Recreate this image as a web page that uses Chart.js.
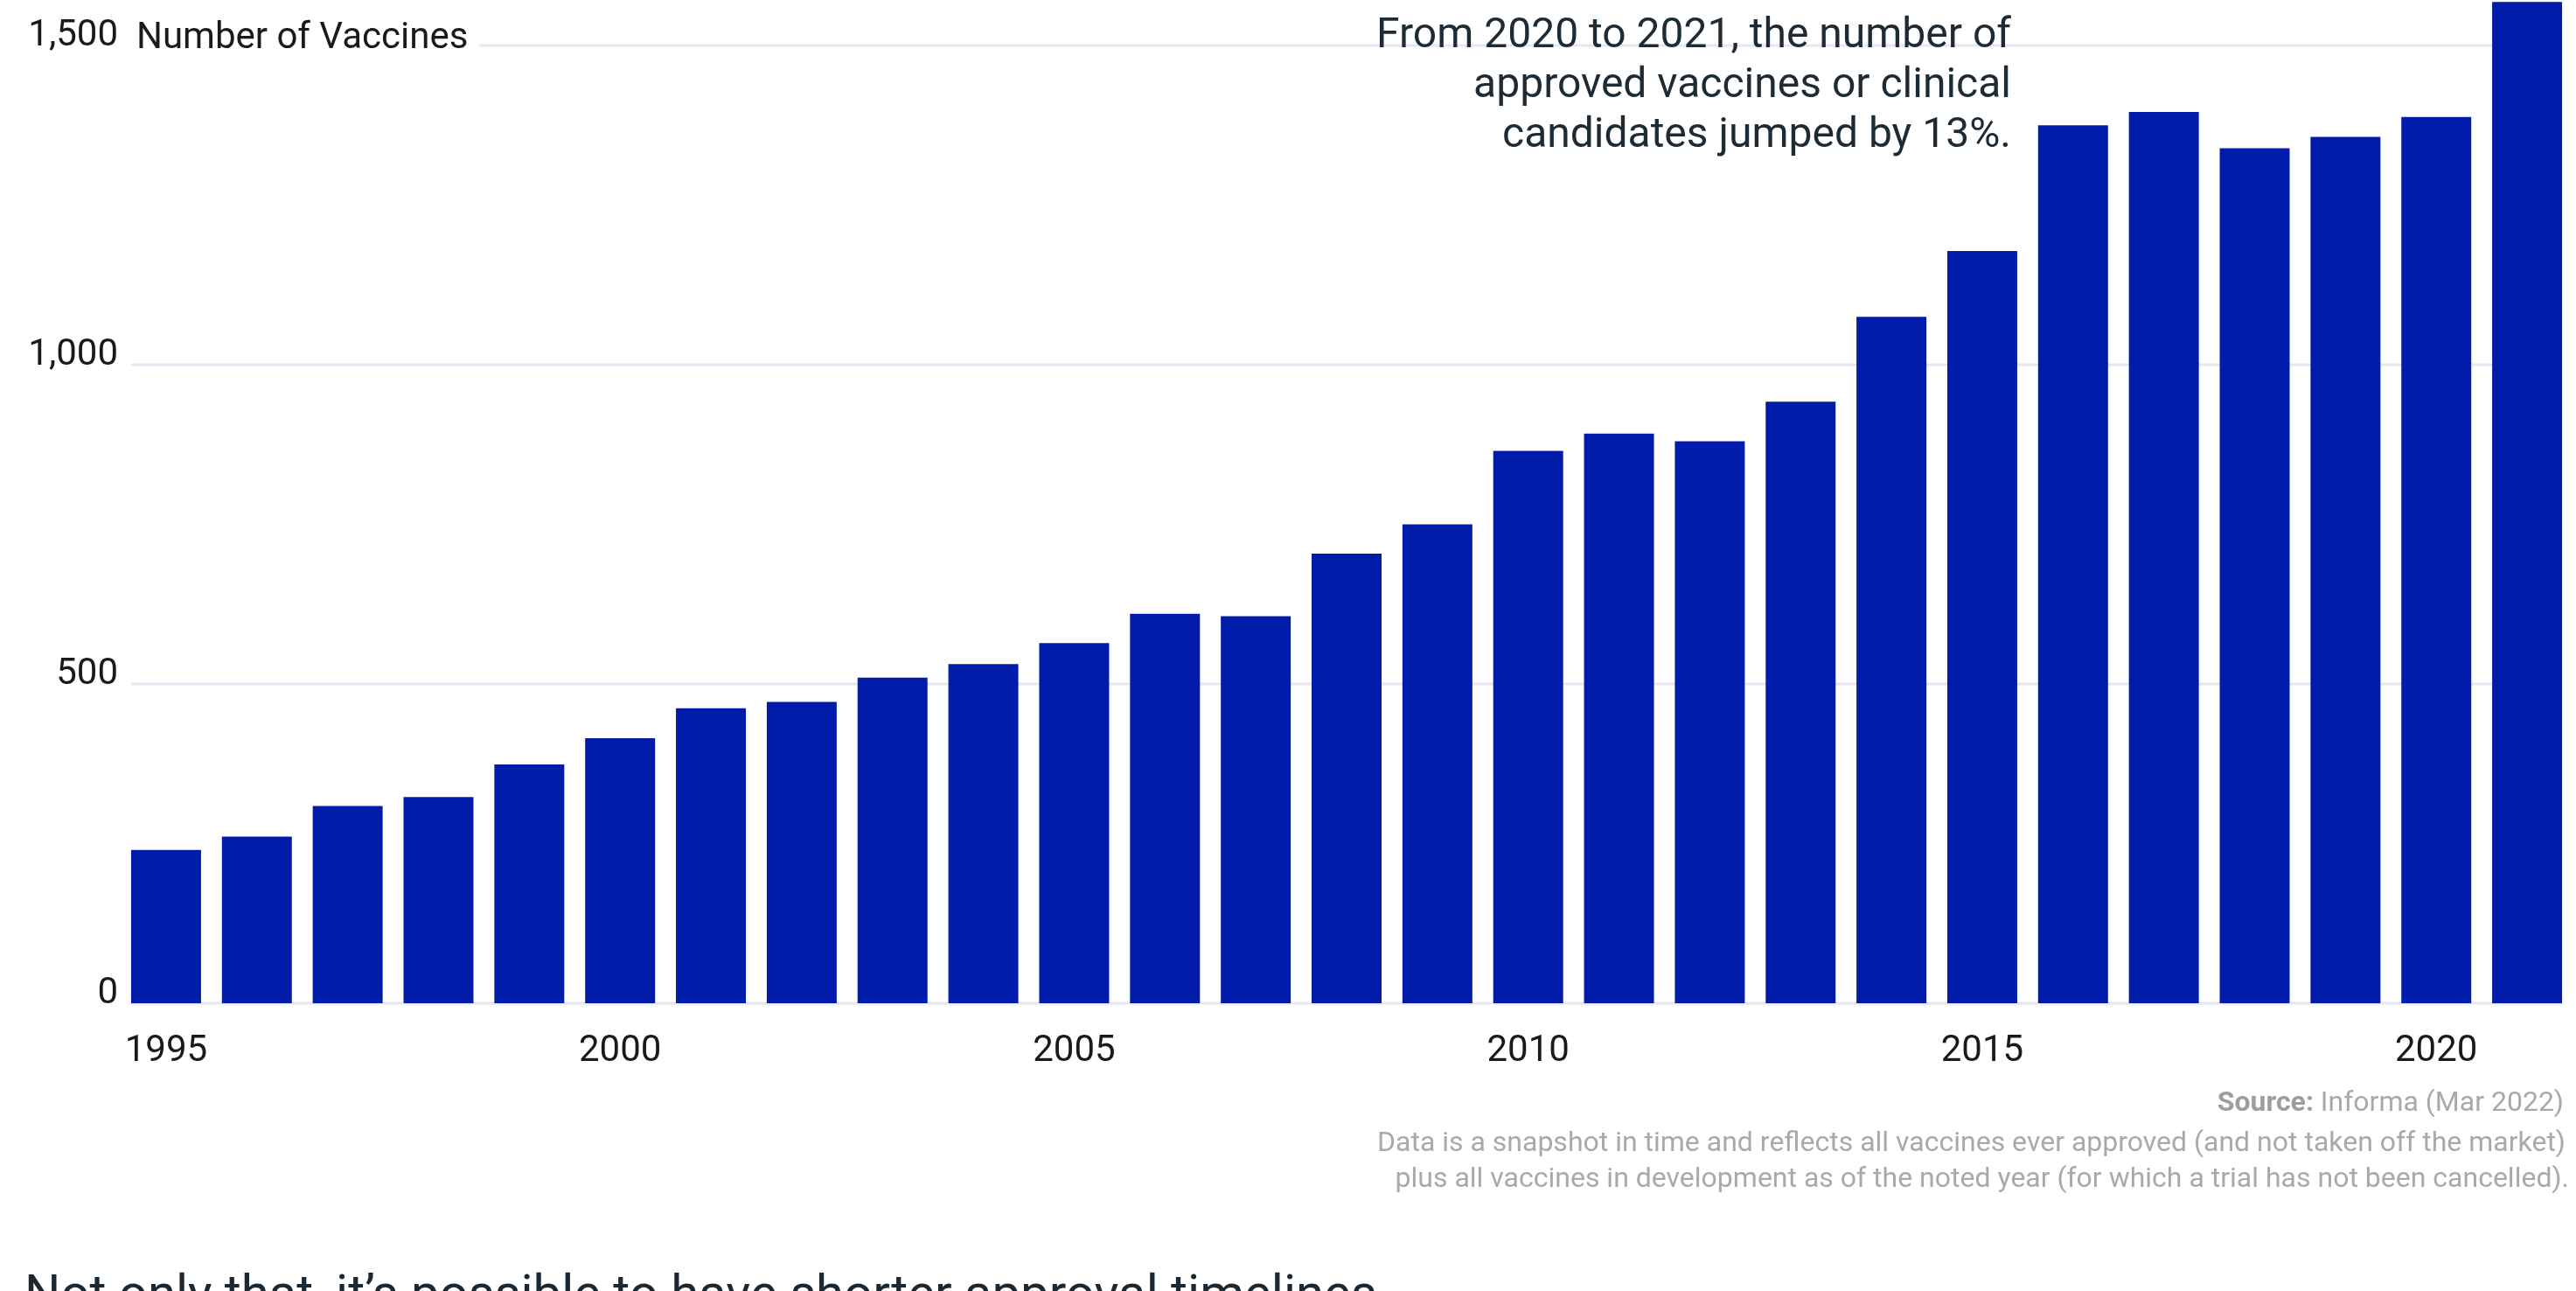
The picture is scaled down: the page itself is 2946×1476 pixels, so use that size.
<!DOCTYPE html>
<html><head><meta charset="utf-8">
<script src="https://cdn.jsdelivr.net/npm/chart.js@4.4.0/dist/chart.umd.min.js"></script>
<style>
html,body{margin:0;padding:0;background:#fff;overflow:hidden}
#wrap{position:absolute;left:0;top:0;width:2946px;height:1476px}
canvas{display:block}
</style>
</head><body>
<div id="wrap"><canvas id="c" width="2946" height="1476"></canvas></div>
<script>
// ---- data ----
const years = [1995,1996,1997,1998,1999,2000,2001,2002,2003,2004,2005,2006,2007,2008,2009,2010,2011,2012,2013,2014,2015,2016,2017,2018,2019,2020,2021];
const vaccineCounts = [240,261,309,323,374,415,462,472,510,531,564,610,606,704,750,865,892,880,942,1075,1178,1375,1396,1339,1357,1388,1568];
const yTickValues = [0,500,1000,1500];
const xLabelYears = [1995,2000,2005,2010,2015,2020];
const axisTitle = 'Number of Vaccines';
const noteLines = ['From 2020 to 2021, the number of','approved vaccines or clinical','candidates jumped by 13%.'];
const sourceLabel = 'Source:';
const sourceText = ' Informa (Mar 2022)';
const footnoteLines = [
  'Data is a snapshot in time and reflects all vaccines ever approved (and not taken off the market)',
  'plus all vaccines in development as of the noted year (for which a trial has not been cancelled).'
];
const nextHeading = 'Not only that, it\u2019s possible to have shorter approval timelines';

const FONT = 'Roboto';
const BAR = '#011BAB';
const GRID = '#E6E7F3';

const extras = {
  id:'extras',
  beforeDatasetsDraw(chart){
    const c = chart.ctx, y = chart.scales.y, meta = chart.getDatasetMeta(0);
    const first = meta.data[0], last = meta.data[meta.data.length-1];
    const x0 = first.x - first.width/2, x1 = last.x + last.width/2;
    c.save();
    c.font = `42px ${FONT}`;
    const titleEnd = x0 + 6 + c.measureText(axisTitle).width + 13;
    c.strokeStyle = GRID; c.lineWidth = 3;
    yTickValues.forEach(v=>{
      const py = Math.round(y.getPixelForValue(v));
      const start = (v === yTickValues[yTickValues.length-1]) ? titleEnd : x0;
      c.beginPath(); c.moveTo(start, py); c.lineTo(x1, py); c.stroke();
    });
    c.restore();
  },
  afterDraw(chart){
    const c = chart.ctx, y = chart.scales.y, meta = chart.getDatasetMeta(0);
    const first = meta.data[0];
    const x0 = first.x - first.width/2;
    const topY = y.getPixelForValue(yTickValues[yTickValues.length-1]);
    c.save();
    c.textBaseline = 'alphabetic';
    // axis title
    c.font = `42px ${FONT}`; c.fillStyle = '#1a1a1a'; c.textAlign = 'left';
    c.fillText(axisTitle, x0 + 6, topY + 3);
    // annotation
    c.font = `48px ${FONT}`; c.fillStyle = '#1d2b35'; c.textAlign = 'right';
    noteLines.forEach((t,i)=> c.fillText(t, 2300, 54 + i*57));
    // source
    const rightX = chart.chartArea.right - 10;
    c.font = `32px ${FONT}`; c.fillStyle = '#a6aaae';
    const wRest = c.measureText(sourceText).width;
    c.fillText(sourceText, rightX, 1270);
    c.font = `bold 32px ${FONT}`; c.fillStyle = '#9b9fa4';
    c.fillText(sourceLabel, rightX - wRest, 1270);
    c.font = `32px ${FONT}`; c.fillStyle = '#a6aaae';
    footnoteLines.forEach((t,i)=> c.fillText(t, rightX + 2 + i*4, 1316 + i*41));
    // next heading
    c.font = `58px ${FONT}`; c.fillStyle = '#1b2731'; c.textAlign = 'left';
    c.fillText(nextHeading, 28, 1498);
    c.restore();
  }
};

new Chart(document.getElementById('c'), {
  type:'bar',
  data:{
    labels: years.map(String),
    datasets:[{data: vaccineCounts, backgroundColor: BAR, borderWidth:0, barPercentage:0.77, categoryPercentage:1, clip:false}]
  },
  options:{
    responsive:false, devicePixelRatio:1, animation:false,
    layout:{padding:{top:52, right:4, left:0, bottom:0}},
    plugins:{legend:{display:false}, tooltip:{enabled:false}},
    scales:{
      x:{
        grid:{display:false, drawTicks:false}, border:{display:false},
        ticks:{autoSkip:false, maxRotation:0, padding:30, color:'#1a1a1a', font:{family:FONT, size:42},
          callback:(v,i)=> xLabelYears.includes(years[i]) ? String(years[i]) : ''},
        afterFit:s=>{ s.height = 329; }
      },
      y:{
        min:0, max:1500,
        afterBuildTicks:s=>{ s.ticks = yTickValues.map(v=>({value:v})); },
        grid:{display:false, drawTicks:false}, border:{display:false},
        ticks:{padding:3, labelOffset:-11, color:'#1a1a1a', font:{family:FONT, size:42},
          callback:v=> Number(v).toLocaleString('en-US')},
        afterFit:s=>{ s.width = 138; }
      }
    }
  },
  plugins:[extras]
});
</script>
</body></html>
